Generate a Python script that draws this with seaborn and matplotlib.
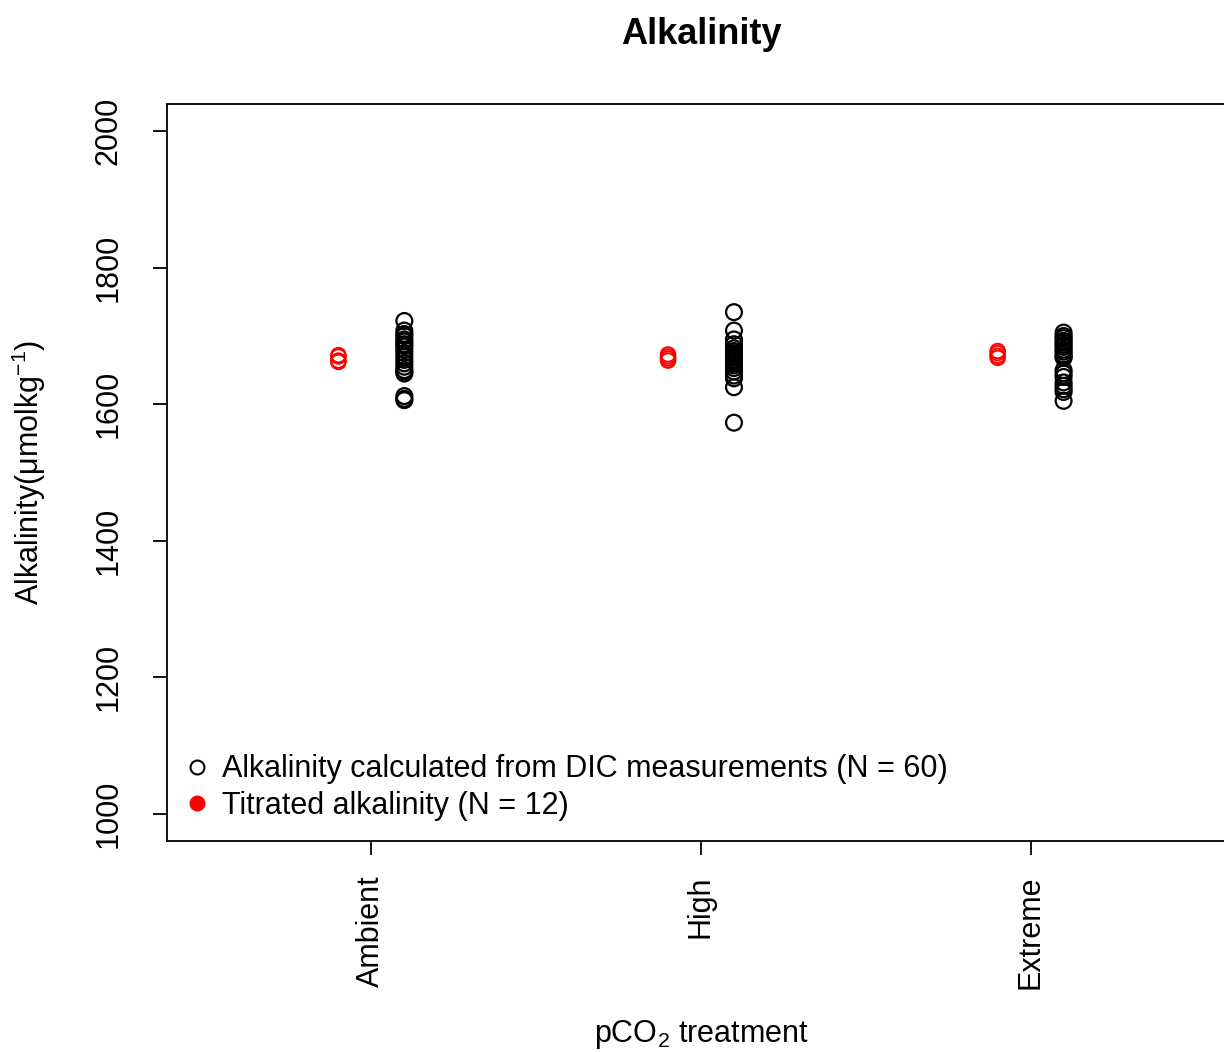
import numpy as np
import pandas as pd
import matplotlib
matplotlib.use("Agg")
import matplotlib.pyplot as plt
import seaborn as sns
from matplotlib.lines import Line2D

treatments = ["Ambient", "High", "Extreme"]

dic_ambient = [1722, 1708, 1703, 1700, 1695, 1692, 1688, 1685, 1680, 1675,
               1670, 1665, 1660, 1655, 1650, 1648, 1645, 1612, 1608, 1606]
dic_high = [1735, 1708, 1695, 1688, 1682, 1678, 1675, 1672, 1670, 1668,
            1665, 1662, 1660, 1657, 1653, 1648, 1642, 1638, 1625, 1573]
dic_extreme = [1705, 1700, 1697, 1693, 1690, 1687, 1684, 1680, 1677, 1673,
               1670, 1668, 1650, 1645, 1640, 1632, 1627, 1622, 1618, 1605]

tit_ambient = [1672, 1670, 1664, 1662]
tit_high = [1673, 1670, 1667, 1664]
tit_extreme = [1678, 1675, 1671, 1668]

yticks = [1000, 1200, 1400, 1600, 1800, 2000]

sns.set_style("white")
plt.rcParams["font.family"] = ["Liberation Sans", "DejaVu Sans"]
plt.rcParams["mathtext.fontset"] = "custom"
plt.rcParams["mathtext.rm"] = "Liberation Sans"
plt.rcParams["mathtext.it"] = "Liberation Sans:italic"
plt.rcParams["mathtext.bf"] = "Liberation Sans:bold"
plt.rcParams["text.color"] = "black"
plt.rcParams["axes.labelcolor"] = "black"
plt.rcParams["xtick.color"] = "black"
plt.rcParams["ytick.color"] = "black"

FS = 22

rows = []
for i, (t, vals) in enumerate(zip(treatments, [dic_ambient, dic_high, dic_extreme])):
    for v in vals:
        rows.append({"treatment": t, "pos": i + 1 + 0.1, "alk": v, "method": "DIC"})
for i, (t, vals) in enumerate(zip(treatments, [tit_ambient, tit_high, tit_extreme])):
    for v in vals:
        rows.append({"treatment": t, "pos": i + 1 - 0.1, "alk": v, "method": "Titrated"})
df = pd.DataFrame(rows)

fig = plt.figure(figsize=(12.24, 10.52), dpi=100)
ax = fig.add_axes([167 / 1224, 1 - 841 / 1052, 1068 / 1224, 737 / 1052])

sns.scatterplot(data=df[df.method == "DIC"], x="pos", y="alk", ax=ax,
                marker="o", s=130, facecolor="none", edgecolor="black",
                linewidth=1.6, legend=False)
sns.scatterplot(data=df[df.method == "Titrated"], x="pos", y="alk", ax=ax,
                marker="o", s=110, facecolor="none", edgecolor="red",
                linewidth=1.4, legend=False)

ax.set_xlim(0.38, 3.62)
ax.set_ylim(960, 2040)
ax.set_xticks([1, 2, 3])
ax.set_xticklabels(treatments, rotation=90, fontsize=FS)
ax.set_yticks(yticks)
ax.set_yticklabels([str(v) for v in yticks], rotation=90, va="center", fontsize=FS)
ax.tick_params(axis="both", direction="out", length=10, width=1.3, color="black",
               bottom=True, left=True, top=False, right=False)
ax.tick_params(axis="x", pad=15)
ax.tick_params(axis="y", pad=21)
for sp in ax.spines.values():
    sp.set_color("black")
    sp.set_linewidth(1.3)

ax.set_xlabel("pCO$_2$ treatment", fontsize=FS)
ax.set_ylabel("Alkalinity(μmolkg$^{-1}$)", fontsize=FS)
ax.xaxis.set_label_coords(0.5, -0.240)
ax.yaxis.set_label_coords(-0.111, 0.5)
fig.text(701 / 1224, 1 - 34 / 1052, "Alkalinity", fontsize=26, fontweight="bold",
         ha="center", va="center")

handles = [
    Line2D([], [], marker="o", linestyle="none", markerfacecolor="none",
           markeredgecolor="black", markersize=10, markeredgewidth=1.5),
    Line2D([], [], marker="o", linestyle="none", markerfacecolor="red",
           markeredgecolor="red", markersize=10, markeredgewidth=1.5),
]
labels = ["Alkalinity calculated from DIC measurements (N = 60)",
          "Titrated alkalinity (N = 12)"]
ax.legend(handles, labels, loc="lower left", frameon=False, fontsize=FS,
          handletextpad=0.3, labelspacing=0.22, borderaxespad=0.4,
          handlelength=1.0, borderpad=0.3, bbox_to_anchor=(-0.006, -0.002))

fig.savefig("out.png", dpi=100)
